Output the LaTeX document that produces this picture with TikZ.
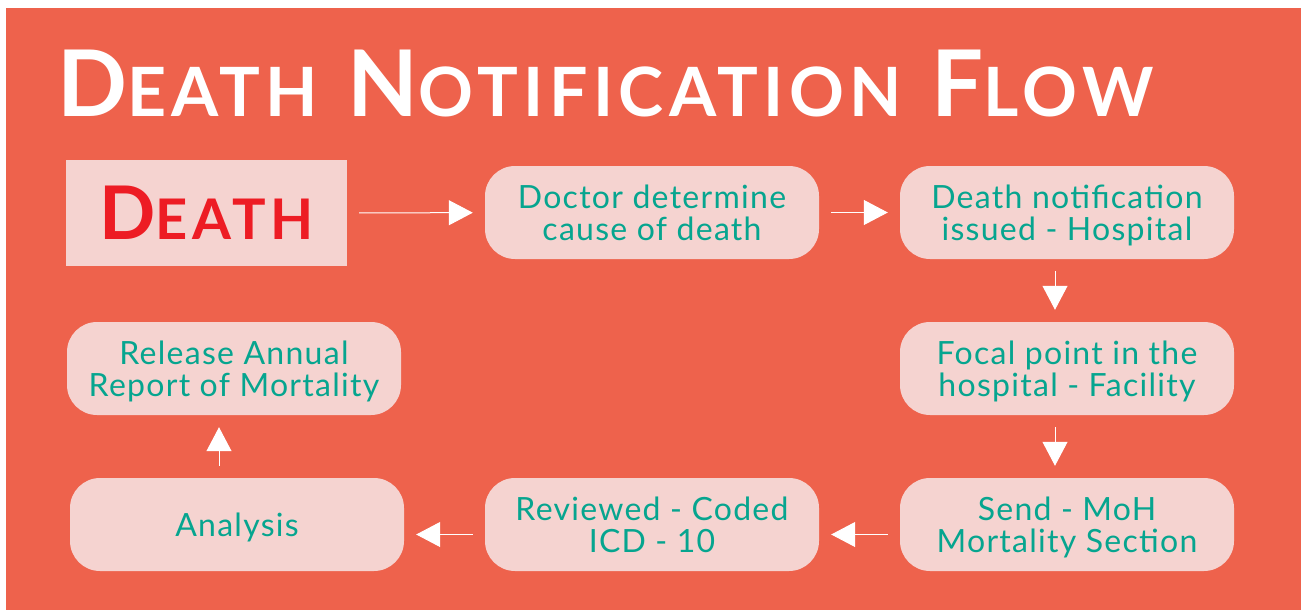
\documentclass[tikz,border=0pt]{standalone}
\usepackage{fontspec}
\setmainfont{Lato}[LetterSpace=4]
\newfontfamily\titlefont{Lato}[LetterSpace=8]
\usetikzlibrary{arrows.meta}
\definecolor{flowbg}{HTML}{EE624C}
\definecolor{boxpink}{HTML}{F5D3D0}
\definecolor{flowteal}{HTML}{06A58F}
\definecolor{deathred}{HTML}{ED1C24}
% fake small caps: first letter big, rest smaller
\newcommand{\smallcapsat}[2]{{\fontsize{#1}{#1}\selectfont #2}}

\begin{document}
\begin{tikzpicture}[x=1pt,y=-1pt,
  flowbox/.style={rounded corners=30pt,fill=boxpink,text=flowteal,minimum width=334pt,
    minimum height=93pt,inner sep=0pt,align=center,text depth=0pt,font=\fontsize{32}{32}\selectfont},
  flowarrow/.style={white,line width=1pt,-{Triangle[length=24pt,width=25pt]},
    shorten >=12pt,shorten <=12pt}]
  \useasboundingbox (0,0) rectangle (1301,610);
  \fill[white] (0,0) rectangle (1301,610);
  \fill[flowbg] (6,8) rectangle (1301,610);
  \node[anchor=base west,text=white,inner sep=0pt,font=\titlefont\bfseries\fontsize{92}{92}\selectfont] (title) at (57,116)
    {D\smallcapsat{68}{EATH} N\smallcapsat{68}{OTIFICATION} F\smallcapsat{68}{LOW}};
  \node[fill=boxpink,minimum width=281pt,minimum height=106pt,inner sep=0pt,text=deathred,
    font=\titlefont\bfseries\fontsize{74}{74}\selectfont] (death) at (206.5,213) {D\smallcapsat{56}{EATH}};
  \node[flowbox] (doctor) at (652,212.5) {Doctor determine\\cause of death};
  \node[flowbox] (notice) at (1067,212.5) {Death notification\\issued - Hospital};
  \node[flowbox] (focal) at (1067,368.5) {Focal point in the\\hospital - Facility};
  \node[flowbox] (send) at (1067,524.5) {Send - MoH\\Mortality Section};
  \node[flowbox] (coded) at (652,524.5) {Reviewed - Coded\\ICD - 10};
  \node[flowbox] (analysis) at (237,524.5) {Analysis};
  \node[flowbox] (release) at (234,368.5) {Release Annual\\Report of Mortality};
  \draw[flowarrow] (death) -- (doctor);
  \draw[flowarrow] (doctor) -- (notice);
  \draw[flowarrow] ([xshift=-12pt]notice.south) -- ([xshift=-12pt]focal.north);
  \draw[flowarrow] ([xshift=-12pt]focal.south) -- ([xshift=-12pt]send.north);
  \draw[flowarrow] ([yshift=-10pt]send.west) -- ([yshift=-10pt]coded.east);
  \draw[flowarrow] ([yshift=-10pt]coded.west) -- ([yshift=-10pt]analysis.east);
  \draw[flowarrow] ([xshift=-18pt]analysis.north) -- ([xshift=-15pt]release.south);
\end{tikzpicture}
\end{document}
